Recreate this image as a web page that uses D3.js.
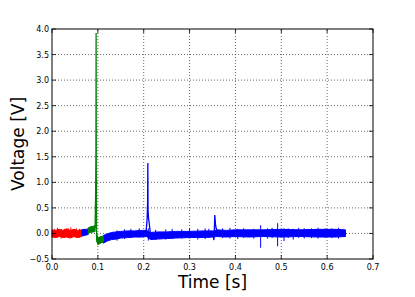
<!DOCTYPE html>
<html>
<head>
<meta charset="utf-8">
<script src="https://cdn.jsdelivr.net/npm/d3@7"></script>
<style>
  body { margin: 0; background: #fff; }
  text { font-family: "DejaVu Sans", sans-serif; }
</style>
</head>
<body>
<div id="chart"></div>
<script>
// Constants ----------------------------------------------
const width = 415;
const height = 297;
const margin = {left: 52, right: 42, top: 29, bottom: 38};

// Data ---------------------------------------------------
// noise bands: time, lower and upper envelope (V)
const redT  = [0, 0.008, 0.016, 0.024, 0.032, 0.04, 0.048, 0.056, 0.065];
const redLo = [-0.07, -0.08, -0.06, -0.08, -0.07, -0.09, -0.06, -0.08, -0.06];
const redHi = [0.07, 0.06, 0.08, 0.06, 0.09, 0.06, 0.08, 0.06, 0.07];

const blueAT  = [0.065, 0.07, 0.075, 0.079];
const blueALo = [-0.05, -0.04, -0.03, -0.02];
const blueAHi = [0.07, 0.08, 0.08, 0.09];

const greenT  = [0.079, 0.084, 0.09, 0.094];
const greenLo = [0.0, 0.02, 0.03, 0.04];
const greenHi = [0.11, 0.13, 0.14, 0.16];

const greenSpikeT = [0.094, 0.0952, 0.0958, 0.0962, 0.0966, 0.0972, 0.0985, 0.1, 0.104, 0.108, 0.112];
const greenSpikeV = [0.1, 0.8, 1.6, 3.92, 1.2, -0.05, -0.16, -0.19, -0.15, -0.14, -0.11];

const greenTailT  = [0.097, 0.1, 0.104, 0.108, 0.112];
const greenTailLo = [-0.13, -0.22, -0.2, -0.18, -0.17];
const greenTailHi = [-0.01, -0.08, -0.07, -0.06, -0.05];

const blueT  = [0.112, 0.12, 0.13, 0.14, 0.15, 0.165, 0.18, 0.195, 0.206, 0.215, 0.23, 0.25, 0.27, 0.3, 0.33, 0.352, 0.36, 0.38, 0.4, 0.43, 0.46, 0.5, 0.54, 0.58, 0.62, 0.64];
const blueLo = [-0.19, -0.15, -0.12, -0.11, -0.09, -0.08, -0.07, -0.07, -0.06, -0.12, -0.11, -0.1, -0.09, -0.08, -0.08, -0.07, -0.06, -0.07, -0.06, -0.07, -0.06, -0.07, -0.06, -0.07, -0.07, -0.06];
const blueHi = [-0.04, -0.01, 0.02, 0.03, 0.04, 0.05, 0.05, 0.06, 0.06, 0.02, 0.03, 0.03, 0.04, 0.04, 0.05, 0.05, 0.07, 0.06, 0.07, 0.07, 0.07, 0.08, 0.07, 0.08, 0.08, 0.07];

// big transients in the blue trace
const spike1T = [0.205, 0.2075, 0.2085, 0.209, 0.2095, 0.2105, 0.212, 0.2135, 0.215];
const spike1V = [0.0, 0.3, 0.6, 1.38, 0.45, 0.3, 0.2, 0.08, -0.04];
const spike2T = [0.351, 0.353, 0.354, 0.355, 0.3565, 0.358, 0.36];
const spike2V = [0.0, -0.13, 0.05, 0.36, 0.18, 0.1, 0.05];

// short glitches: time, low, high (V)
const glitchT  = [0.006, 0.012, 0.02, 0.027, 0.035, 0.041, 0.053, 0.06, 0.142, 0.158, 0.172, 0.19, 0.21, 0.226, 0.248, 0.262, 0.283, 0.3, 0.318, 0.334, 0.342, 0.372, 0.388, 0.405, 0.418, 0.44, 0.455, 0.47, 0.48, 0.492, 0.506, 0.515, 0.526, 0.538, 0.55, 0.566, 0.58, 0.596, 0.61, 0.625];
const glitchLo = [-0.09, -0.08, -0.1, -0.09, -0.08, -0.07, -0.09, -0.08, -0.14, -0.11, -0.09, -0.08, -0.14, -0.13, -0.12, -0.11, -0.1, -0.1, -0.12, -0.11, -0.09, -0.09, -0.1, -0.11, -0.09, -0.1, -0.28, -0.1, -0.09, -0.25, -0.15, -0.09, -0.12, -0.09, -0.1, -0.09, -0.1, -0.09, -0.09, -0.1];
const glitchHi = [0.09, 0.11, 0.08, 0.09, 0.1, 0.12, 0.1, 0.09, 0.06, 0.08, 0.09, 0.1, 0.1, 0.07, 0.08, 0.09, 0.08, 0.1, 0.09, 0.1, 0.09, 0.1, 0.11, 0.09, 0.1, 0.09, 0.16, 0.1, 0.11, 0.2, 0.1, 0.1, 0.09, 0.11, 0.1, 0.1, 0.11, 0.1, 0.1, 0.11];
const glitchColor = ["red", "red", "red", "red", "red", "red", "red", "red", "blue", "blue", "blue", "blue", "blue", "blue", "blue", "blue", "blue", "blue", "blue", "blue", "blue", "blue", "blue", "blue", "blue", "blue", "blue", "blue", "blue", "blue", "blue", "blue", "blue", "blue", "blue", "blue", "blue", "blue", "blue", "blue"];

const xTicks = [0, 0.1, 0.2, 0.3, 0.4, 0.5, 0.6, 0.7];
const yTicks = [-0.5, 0, 0.5, 1, 1.5, 2, 2.5, 3, 3.5, 4];

const colors = {red: "#ff0000", blue: "#0000ff", green: "#008000"};

// Scales -------------------------------------------------
const x = d3.scaleLinear().domain([0, 0.7]).range([margin.left, width - margin.right]);
const y = d3.scaleLinear().domain([-0.5, 4.0]).range([height - margin.bottom, margin.top]);

const svg = d3.select("#chart").append("svg")
  .attr("width", width)
  .attr("height", height);

// Grid ---------------------------------------------------
const grid = svg.append("g")
  .attr("stroke", "#000")
  .attr("stroke-width", 0.6)
  .attr("stroke-dasharray", "1,2");

grid.selectAll(".gx").data(xTicks.slice(1, -1)).enter().append("line")
  .attr("x1", d => x(d)).attr("x2", d => x(d))
  .attr("y1", y(-0.5)).attr("y2", y(4));

grid.selectAll(".gy").data(yTicks.slice(1, -1)).enter().append("line")
  .attr("y1", d => y(d)).attr("y2", d => y(d))
  .attr("x1", x(0)).attr("x2", x(0.7));

// Traces -------------------------------------------------
const plot = svg.append("g");

function band(ts, lo, hi, color) {
  const pts = ts.map((t, i) => ({t: t, lo: lo[i], hi: hi[i]}));
  plot.append("path")
    .datum(pts)
    .attr("d", d3.area().x(d => x(d.t)).y0(d => y(d.lo)).y1(d => y(d.hi)))
    .attr("fill", color)
    .attr("stroke", color)
    .attr("stroke-width", 1);
}

function trace(ts, vs, color) {
  plot.append("path")
    .datum(ts.map((t, i) => [t, vs[i]]))
    .attr("d", d3.line().x(d => x(d[0])).y(d => y(d[1])))
    .attr("fill", "none")
    .attr("stroke", color)
    .attr("stroke-width", 1.3);
}

band(redT, redLo, redHi, colors.red);
band(blueAT, blueALo, blueAHi, colors.blue);
band(greenT, greenLo, greenHi, colors.green);
band(blueT, blueLo, blueHi, colors.blue);
band(greenTailT, greenTailLo, greenTailHi, colors.green);
trace(greenSpikeT, greenSpikeV, colors.green);
trace(spike1T, spike1V, colors.blue);
trace(spike2T, spike2V, colors.blue);

plot.selectAll(".glitch")
  .data(glitchT.map((t, i) => ({t: t, lo: glitchLo[i], hi: glitchHi[i], c: glitchColor[i]})))
  .enter().append("line")
  .attr("x1", d => x(d.t)).attr("x2", d => x(d.t))
  .attr("y1", d => y(d.lo)).attr("y2", d => y(d.hi))
  .attr("stroke", d => colors[d.c])
  .attr("stroke-width", 1);

// Frame and ticks ----------------------------------------
const fmt = d => d3.format(".1f")(d).replace("-", "\u2212");
const tickLen = 4;
const axes = svg.append("g").attr("stroke", "#000").attr("stroke-width", 0.8);

xTicks.forEach(t => {
  axes.append("line").attr("x1", x(t)).attr("x2", x(t))
    .attr("y1", y(-0.5)).attr("y2", y(-0.5) - tickLen);
  axes.append("line").attr("x1", x(t)).attr("x2", x(t))
    .attr("y1", y(4)).attr("y2", y(4) + tickLen);
});
yTicks.forEach(v => {
  axes.append("line").attr("x1", x(0)).attr("x2", x(0) + tickLen)
    .attr("y1", y(v)).attr("y2", y(v));
  axes.append("line").attr("x1", x(0.7)).attr("x2", x(0.7) - tickLen)
    .attr("y1", y(v)).attr("y2", y(v));
});

svg.append("rect")
  .attr("x", x(0)).attr("y", y(4))
  .attr("width", x(0.7) - x(0)).attr("height", y(-0.5) - y(4))
  .attr("fill", "none").attr("stroke", "#000").attr("stroke-width", 1);

svg.append("g").selectAll("text").data(xTicks).enter().append("text")
  .attr("x", d => x(d)).attr("y", y(-0.5) + 11)
  .attr("text-anchor", "middle")
  .attr("font-size", 8)
  .text(fmt);

svg.append("g").selectAll("text").data(yTicks).enter().append("text")
  .attr("x", x(0) - 3).attr("y", d => y(d) + 3)
  .attr("text-anchor", "end")
  .attr("font-size", 8)
  .text(fmt);

// Axis labels --------------------------------------------
svg.append("text")
  .attr("x", (x(0) + x(0.7)) / 2).attr("y", 288)
  .attr("text-anchor", "middle")
  .attr("font-size", 17)
  .text("Time [s]");

svg.append("text")
  .attr("transform", `translate(24,${(y(-0.5) + y(4)) / 2}) rotate(-90)`)
  .attr("text-anchor", "middle")
  .attr("font-size", 17)
  .text("Voltage [V]");
</script>
</body>
</html>
